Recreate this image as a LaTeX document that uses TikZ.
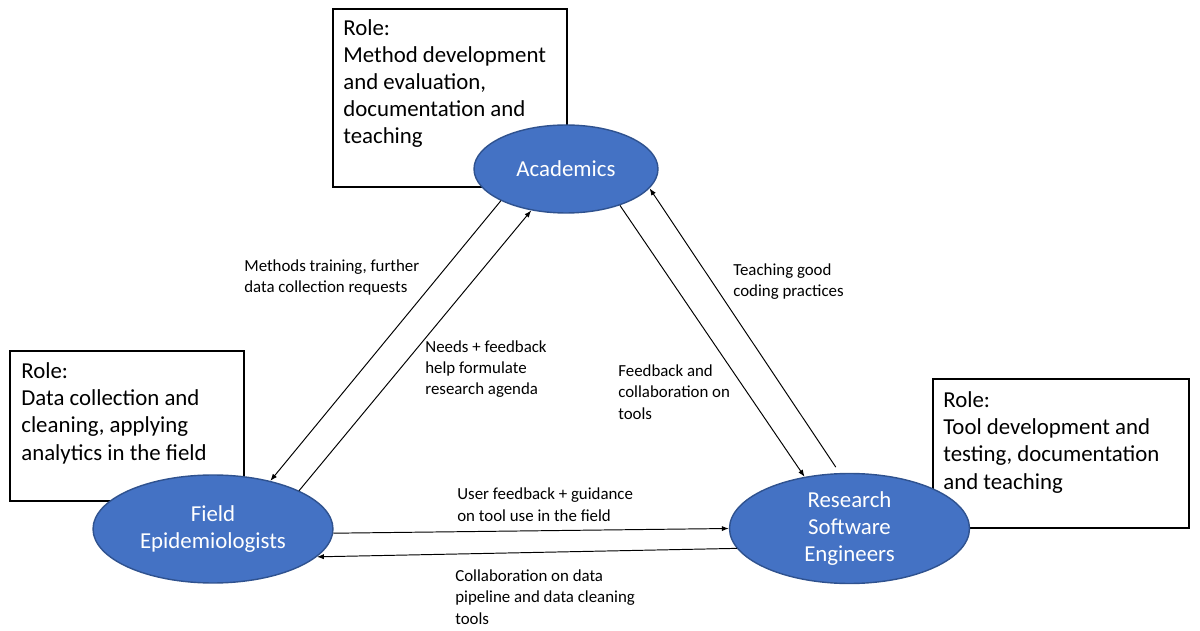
\documentclass[tikz,border=0pt]{standalone}
\usepackage{fontspec}
\setmainfont{Carlito}
\usetikzlibrary{arrows.meta, shapes.geometric}
\definecolor{officeblue}{HTML}{4472C4}
\definecolor{officeedge}{HTML}{2F528F}
\tikzset{
  actor/.style={ellipse, draw=officeedge, line width=0.8pt, fill=officeblue, text=white,
      inner sep=0pt, align=center, font=\fontsize{13pt}{15.5pt}\selectfont},
  rolebox/.style={draw, line width=0.7pt, fill=white, inner sep=0pt},
  roletext/.style={anchor=base west, inner sep=0pt, align=left,
      font=\fontsize{13pt}{15.5pt}\selectfont},
  flowlabel/.style={anchor=base west, inner sep=0pt, align=left,
      font=\fontsize{9.6pt}{12.1pt}\selectfont},
  flow/.style={line width=0.55pt, -{Latex[length=4pt, width=3pt]}},
}

\begin{document}
\begin{tikzpicture}[x=0.02cm, y=-0.02cm]
  \useasboundingbox (0,0) rectangle (1200,631);
  % role boxes (text placed by its last baseline)
  \node[rolebox, minimum width=4.68cm, minimum height=3.56cm] (acadbox) at (450,98) {};
  \node[roletext] (acadrole) at (343,144) {Role:\\Method development\\and evaluation,\\documentation and\\teaching};
  \node[rolebox, minimum width=4.68cm, minimum height=3.0cm] (fieldbox) at (127,426) {};
  \node[roletext] (fieldrole) at (21,460) {Role:\\Data collection and\\cleaning, applying\\analytics in the field};
  \node[rolebox, minimum width=5.12cm, minimum height=2.98cm] (rsebox) at (1061,453.5) {};
  \node[roletext] (rserole) at (943,489) {Role:\\Tool development and\\testing, documentation\\and teaching};
  % actors
  \node[actor, minimum width=3.68cm, minimum height=1.76cm] (acad) at (566,169) {Academics};
  \node[actor, minimum width=4.8cm, minimum height=2.16cm] (field) at (213,529) {Field\\Epidemiologists};
  \node[actor, minimum width=4.8cm, minimum height=2.2cm] (rse) at (849.5,528.5) {Research\\Software\\Engineers};
  % exchanges
  \draw[flow] (acad.206.6) -- (field.40.5);
  \draw[flow] (field.24.1) -- (acad.230.2);
  \draw[flow] (acad.326.3) -- (rse.131.7);
  \draw[flow, shorten <=4pt] (rse.100.8) -- (acad.347.9);
  \draw[flow] (field.358) -- (rse.180);
  \draw[flow] (rse.190.9) -- (field.345.8);
  % labels
  \node[flowlabel] (lbltrain) at (244,293) {Methods training, further\\data collection requests};
  \node[flowlabel] (lblneeds) at (425,395) {Needs + feedback\\help formulate\\research agenda};
  \node[flowlabel] (lblteach) at (733,297) {Teaching good\\coding practices};
  \node[flowlabel] (lblfeed) at (618,419) {Feedback and\\collaboration on\\tools};
  \node[flowlabel] (lbluser) at (457,521) {User feedback + guidance\\on tool use in the field};
  \node[flowlabel] (lblcollab) at (455,624) {Collaboration on data\\pipeline and data cleaning\\tools};
\end{tikzpicture}
\end{document}
